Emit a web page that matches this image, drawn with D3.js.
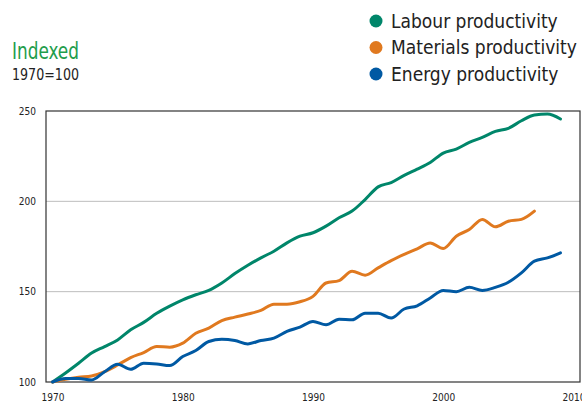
<!DOCTYPE html>
<html>
<head>
<meta charset="utf-8">
<script src="https://d3js.org/d3.v7.min.js"></script>
<style>
  body { margin: 0; background: #fff; }
  svg text { font-family: "Liberation Sans Narrow", "DejaVu Sans Condensed", sans-serif; }
</style>
</head>
<body>
<svg id="chart" width="582" height="404"></svg>
<script>
var years = d3.range(1970, 2010)

var labour = [100, 105, 110.4, 116, 119.6, 123.3, 128.9, 133, 138, 142,
  145.5, 148.3, 150.7, 154.8, 160, 164.6, 168.7, 172.4, 177, 180.7,
  182.6, 186.3, 190.9, 194.6, 201, 208, 210.4, 214.4, 217.8, 221.5,
  226.7, 228.9, 232.6, 235.4, 238.7, 240.4, 244.6, 247.8, 248.3, 245.6]

var materials = [100, 101.5, 102.6, 103.3, 105.7, 109.4, 113.5, 116.3, 119.6, 119.3,
  121.5, 127, 129.8, 134, 135.9, 137.6, 139.6, 143.1, 143.1, 144.4,
  147.4, 154.8, 156.1, 161.3, 159.1, 163.2, 167.2, 170.6, 173.7, 177,
  173.9, 180.7, 184.4, 190, 185.9, 189, 190, 194.6]

var energy = [100, 102, 102, 101.1, 105.7, 109.8, 107, 110.4, 110, 109.1,
  114.1, 117.4, 122.4, 123.7, 123, 121.1, 123, 124.3, 128, 130.4,
  133.5, 131.7, 134.8, 134.4, 138.1, 138.1, 135.4, 140.4, 142.2, 146.5,
  150.7, 150, 152.4, 150.7, 152.4, 155.2, 160.4, 166.9, 168.7, 171.5]

var seriesNames = ['Labour productivity', 'Materials productivity', 'Energy productivity']
var seriesColors = ['#00866a', '#e0791f', '#0059a3']
var yTicks = [100, 150, 200, 250]
var xTicks = [1970, 1980, 1990, 2000, 2010]

draw()

function draw() {
  var svg = d3.select('#chart')
    , left = 46
    , right = 580
    , plotTop = 111
    , bottom = 382

  var x = d3.scaleLinear()
    .domain([1969.5, 2010.5])
    .range([left, right])

  var y = d3.scaleLinear()
    .domain([100, 250])
    .range([bottom, plotTop])

  // title block
  svg.append('text')
    .attr('x', 12)
    .attr('y', 59)
    .attr('fill', '#1f9d4c')
    .attr('font-size', '23px')
    .attr('textLength', 67)
    .attr('lengthAdjust', 'spacingAndGlyphs')
    .text('Indexed')

  svg.append('text')
    .attr('x', 12)
    .attr('y', 80)
    .attr('fill', '#222')
    .attr('font-size', '15px')
    .attr('textLength', 67)
    .attr('lengthAdjust', 'spacingAndGlyphs')
    .text('1970=100')

  // grid lines
  svg.append('g')
    .selectAll('line')
    .data(yTicks.slice(1, -1))
    .enter()
      .append('line')
      .attr('x1', left)
      .attr('x2', right)
      .attr('y1', function(d) { return y(d) })
      .attr('y2', function(d) { return y(d) })
      .attr('stroke', '#bdbdbd')
      .attr('stroke-width', 1)

  // frame
  svg.append('rect')
    .attr('x', left)
    .attr('y', plotTop)
    .attr('width', right - left)
    .attr('height', bottom - plotTop)
    .attr('fill', 'none')
    .attr('stroke', '#333')
    .attr('stroke-width', 1.2)

  // axes, labels only
  var yAxis = svg.append('g')
    .attr('transform', 'translate(' + left + ',0)')
    .call(d3.axisLeft(y).tickValues(yTicks).tickSize(0).tickPadding(10))

  var xAxis = svg.append('g')
    .attr('transform', 'translate(0,' + bottom + ')')
    .call(d3.axisBottom(x).tickValues(xTicks).tickFormat(d3.format('d')).tickSize(0).tickPadding(12))

  yAxis.select('.domain').remove()
  xAxis.select('.domain').remove()

  svg.selectAll('.tick text')
    .attr('font-family', '"Liberation Sans Narrow", "DejaVu Sans Condensed", sans-serif')
    .attr('font-size', '10px')
    .attr('fill', '#222')

  // lines
  var line = d3.line()
    .x(function(d, i) { return x(years[i]) })
    .y(function(d) { return y(d) })
    .curve(d3.curveMonotoneX)

  svg.append('g')
    .selectAll('path')
    .data([labour, materials, energy])
    .enter()
      .append('path')
      .attr('d', line)
      .attr('fill', 'none')
      .attr('stroke', function(d, i) { return seriesColors[i] })
      .attr('stroke-width', 3)
      .attr('stroke-linejoin', 'round')
      .attr('stroke-linecap', 'round')

  // legend
  var legend = svg.append('g')
    .selectAll('g')
    .data(seriesNames)
    .enter()
      .append('g')
      .attr('transform', function(d, i) {
        return 'translate(376,' + (21 + i * 26.5) + ')'
      })

  legend.append('circle')
    .attr('r', 6.5)
    .attr('fill', function(d, i) { return seriesColors[i] })

  legend.append('text')
    .attr('x', 15)
    .attr('y', 6.5)
    .attr('font-size', '19px')
    .attr('fill', '#222')
    .text(function(d) { return d })
}
</script>
</body>
</html>
